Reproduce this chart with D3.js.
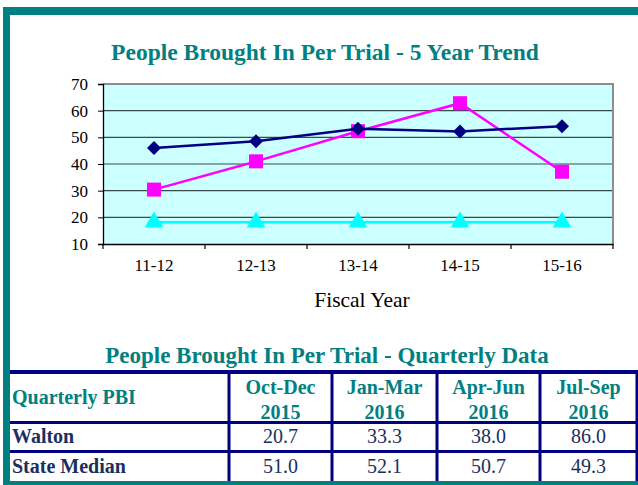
<!DOCTYPE html>
<html>
<head>
<meta charset="utf-8">
<script src="https://cdn.jsdelivr.net/npm/d3@7"></script>
<style>
  body { margin: 0; background: #fff; }
  svg { display: block; font-family: "Liberation Serif", "Times New Roman", serif; }
</style>
</head>
<body>
<script>
// chart data
let years = ["11-12", "12-13", "13-14", "14-15", "15-16"];
let stateMedian = [46, 48.5, 53.2, 52.2, 54.2];
let walton = [30.4, 41, 52.3, 62.8, 37.1];
let standard = [18.2, 18.2, 18.2, 18.2, 18.2];
let yTicks = [10, 20, 30, 40, 50, 60, 70];

// table data
let quarterLabels = [["Oct-Dec", "2015"], ["Jan-Mar", "2016"], ["Apr-Jun", "2016"], ["Jul-Sep", "2016"]];
let rowNames = ["Walton", "State Median"];
let waltonQ = [20.7, 33.3, 38.0, 86.0];
let medianQ = [51.0, 52.1, 50.7, 49.3];

let teal = "#008080";
let navy = "#000080";
let textNavy = "#1b2f5e";

let svg = d3.select("body").append("svg")
    .attr("width", 638)
    .attr("height", 485);

svg.append("rect").attr("width", 638).attr("height", 485).attr("fill", "#fff");

// frame
svg.append("rect").attr("x", 3).attr("y", 7).attr("width", 635).attr("height", 8).attr("fill", teal);
svg.append("rect").attr("x", 3).attr("y", 7).attr("width", 7).attr("height", 478).attr("fill", teal);

// title
svg.append("text")
    .attr("x", 325).attr("y", 60)
    .attr("text-anchor", "middle")
    .attr("font-size", 23.5).attr("font-weight", "bold")
    .attr("fill", teal)
    .text("People Brought In Per Trial - 5 Year Trend");

let pLeft = 103, pRight = 613, pTop = 84, pBottom = 244;

let x = d3.scaleBand().domain(years).range([pLeft, pRight]);
let y = d3.scaleLinear().domain([10, 70]).range([pBottom, pTop]);

// plot background
svg.append("rect")
    .attr("x", pLeft).attr("y", pTop)
    .attr("width", pRight - pLeft).attr("height", pBottom - pTop)
    .attr("fill", "#ccffff");

// gridlines
svg.append("g").selectAll("line")
    .data(yTicks.slice(1, -1))
    .enter().append("line")
    .attr("x1", pLeft).attr("x2", pRight)
    .attr("y1", d => y(d)).attr("y2", d => y(d))
    .attr("stroke", "#3a4a4a").attr("stroke-width", 1.2);

// gray border top/right
svg.append("path")
    .attr("d", `M${pLeft},${pTop}H${pRight}V${pBottom}`)
    .attr("fill", "none").attr("stroke", "#8c8c8c").attr("stroke-width", 2);

// y axis
let yAxis = svg.append("g")
    .attr("transform", `translate(${pLeft},0)`)
    .call(d3.axisLeft(y).tickValues(yTicks).tickSize(5).tickPadding(10));
yAxis.select(".domain").attr("stroke", "#000").attr("stroke-width", 1.3);
yAxis.selectAll(".tick line").attr("stroke", "#000");
yAxis.selectAll("text")
    .attr("font-family", "Liberation Serif, serif")
    .attr("font-size", 17).attr("fill", "#000");

// x axis
let xAxis = svg.append("g")
    .attr("transform", `translate(0,${pBottom})`)
    .call(d3.axisBottom(x).tickSize(0).tickPadding(15));
xAxis.select(".domain").attr("stroke", "#000").attr("stroke-width", 1.3);
xAxis.selectAll("text")
    .attr("font-family", "Liberation Serif, serif")
    .attr("font-size", 17).attr("fill", "#000");
// category separator ticks
let edges = years.map(d => x(d)).concat([pRight]);
svg.append("g").selectAll("line")
    .data(edges)
    .enter().append("line")
    .attr("x1", d => d).attr("x2", d => d)
    .attr("y1", pBottom).attr("y2", pBottom + 5)
    .attr("stroke", "#000").attr("stroke-width", 1.2);

svg.append("text")
    .attr("x", 362).attr("y", 307)
    .attr("text-anchor", "middle")
    .attr("font-size", 21.5)
    .text("Fiscal Year");

let cx = d => x(d) + x.bandwidth() / 2;

function drawSeries(vals, color, symbolType, size, rot) {
    let line = d3.line()
        .x((d, i) => cx(years[i]))
        .y(d => y(d));
    svg.append("path")
        .datum(vals)
        .attr("d", line)
        .attr("fill", "none")
        .attr("stroke", color)
        .attr("stroke-width", 2.5);
    svg.append("g").selectAll("path")
        .data(vals)
        .enter().append("path")
        .attr("transform", (d, i) => `translate(${cx(years[i])},${y(d)}) rotate(${rot})`)
        .attr("d", d3.symbol().type(symbolType).size(size))
        .attr("fill", color);
}

drawSeries(standard, "#00ffff", d3.symbolTriangle, 150, 0);
drawSeries(walton, "#ff00ff", d3.symbolSquare, 196, 0);
drawSeries(stateMedian, navy, d3.symbolSquare, 98, 45);

// quarterly table
svg.append("text")
    .attr("x", 327).attr("y", 363)
    .attr("text-anchor", "middle")
    .attr("font-size", 23).attr("font-weight", "bold")
    .attr("fill", teal)
    .text("People Brought In Per Trial - Quarterly Data");

let colEdges = [10, 229, 332, 437, 540, 637];
let colMid = i => (colEdges[i + 1] + colEdges[i + 2]) / 2;

// horizontal rules
svg.append("rect").attr("x", 10).attr("y", 370).attr("width", 628).attr("height", 4).attr("fill", navy);
svg.append("rect").attr("x", 10).attr("y", 421).attr("width", 628).attr("height", 3).attr("fill", navy);
svg.append("rect").attr("x", 10).attr("y", 450).attr("width", 628).attr("height", 3).attr("fill", navy);
// vertical rules
svg.append("g").selectAll("rect")
    .data(colEdges.slice(1))
    .enter().append("rect")
    .attr("x", d => d - 1.5).attr("y", 370)
    .attr("width", 3).attr("height", 112)
    .attr("fill", navy);

svg.append("text")
    .attr("x", 12).attr("y", 404)
    .attr("font-size", 20).attr("font-weight", "bold")
    .attr("fill", teal)
    .text("Quarterly PBI");

let head = svg.append("g").selectAll("text")
    .data(quarterLabels)
    .enter().append("text")
    .attr("text-anchor", "middle")
    .attr("font-size", 20).attr("font-weight", "bold")
    .attr("fill", teal);
head.append("tspan").attr("x", (d, i) => colMid(i)).attr("y", 394).text(d => d[0]);
head.append("tspan").attr("x", (d, i) => colMid(i)).attr("y", 419).text(d => d[1]);

let rows = [waltonQ, medianQ];
let rowBase = [443, 473];
rowNames.forEach((name, r) => {
    svg.append("text")
        .attr("x", 12).attr("y", rowBase[r])
        .attr("font-size", 20).attr("font-weight", "bold")
        .attr("fill", textNavy)
        .text(name);
    svg.append("g").selectAll("text")
        .data(rows[r])
        .enter().append("text")
        .attr("x", (d, i) => colMid(i)).attr("y", rowBase[r])
        .attr("text-anchor", "middle")
        .attr("font-size", 20)
        .attr("fill", textNavy)
        .text(d => d.toFixed(1));
});

// bottom frame
svg.append("rect").attr("x", 3).attr("y", 481).attr("width", 635).attr("height", 4).attr("fill", teal);
</script>
</body>
</html>
